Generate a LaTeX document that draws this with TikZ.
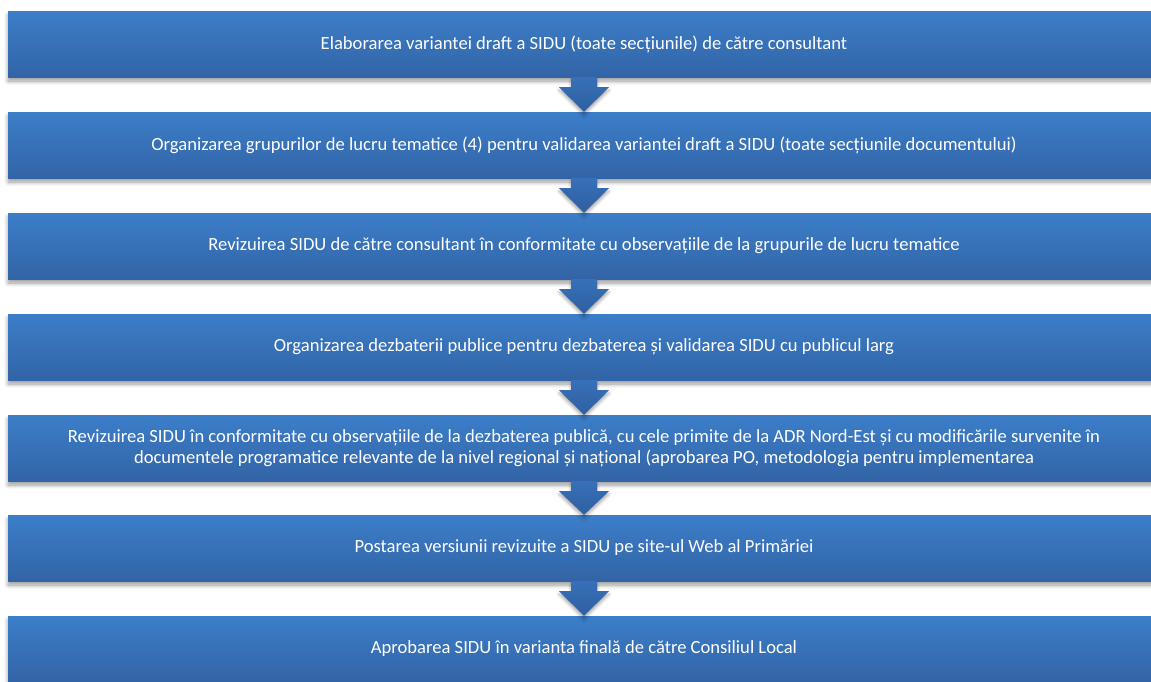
\documentclass[tikz,border=0pt]{standalone}
\usepackage{fontspec}
\setmainfont{Carlito}
\usetikzlibrary{calc,shadows.blur}
\definecolor{boxtop}{RGB}{60,126,201}
\definecolor{boxbot}{RGB}{50,100,166}
\definecolor{arrtop}{RGB}{55,112,185}
\definecolor{arrbot}{RGB}{47,95,160}
\tikzset{
  stepbox/.style={rectangle, minimum width=1152pt, minimum height=66pt, inner sep=0pt,
    top color=boxtop, bottom color=boxbot, draw=none, text=white,
    font=\fontsize{18.6pt}{21pt}\selectfont, align=center,
    blur shadow={shadow xshift=0pt, shadow yshift=-4pt, shadow blur steps=6, shadow blur radius=4pt, shadow opacity=40}},
  downarrow/.style={top color=arrtop, bottom color=arrbot, draw=none,
    blur shadow={shadow xshift=0pt, shadow yshift=-3pt, shadow blur steps=5, shadow blur radius=3pt, shadow opacity=35}}
}
\newcommand{\flowarrow}[2]{%
  \path[downarrow] ($(#1.south)+(-13pt,0pt)$) -- ($(#1.south)+(13pt,0pt)$) --
    ($(#1.south)+(13pt,-10pt)$) -- ($(#1.south)+(25pt,-10pt)$) -- (#2.north) --
    ($(#1.south)+(-25pt,-10pt)$) -- ($(#1.south)+(-13pt,-10pt)$) -- cycle;}
\begin{document}
\begin{tikzpicture}
\useasboundingbox (0,0) rectangle (1151pt,-681pt);
\clip (0,0) rectangle (1151pt,-681pt);
\node[stepbox] (b1) at (584pt,-44pt) {Elaborarea variantei draft a SIDU (toate secțiunile) de către consultant};
\node[stepbox] (b2) at (584pt,-145pt) {Organizarea grupurilor de lucru tematice (4) pentru validarea variantei draft a SIDU (toate secțiunile documentului)};
\node[stepbox] (b3) at (584pt,-246pt) {Revizuirea SIDU de către consultant în conformitate cu observațiile de la grupurile de lucru tematice};
\node[stepbox] (b4) at (584pt,-347pt) {Organizarea dezbaterii publice pentru dezbaterea și validarea SIDU cu publicul larg};
\node[stepbox] (b5) at (584pt,-448pt) {Revizuirea SIDU în conformitate cu observațiile de la dezbaterea publică, cu cele primite de la ADR Nord-Est și cu modificările survenite în\\documentele programatice relevante de la nivel regional și național (aprobarea PO, metodologia pentru implementarea};
\node[stepbox] (b6) at (584pt,-548pt) {Postarea versiunii revizuite a SIDU pe site-ul Web al Primăriei};
\node[stepbox] (b7) at (584pt,-649pt) {Aprobarea SIDU în varianta finală de către Consiliul Local};
\flowarrow{b1}{b2}
\flowarrow{b2}{b3}
\flowarrow{b3}{b4}
\flowarrow{b4}{b5}
\flowarrow{b5}{b6}
\flowarrow{b6}{b7}
\end{tikzpicture}
\end{document}
